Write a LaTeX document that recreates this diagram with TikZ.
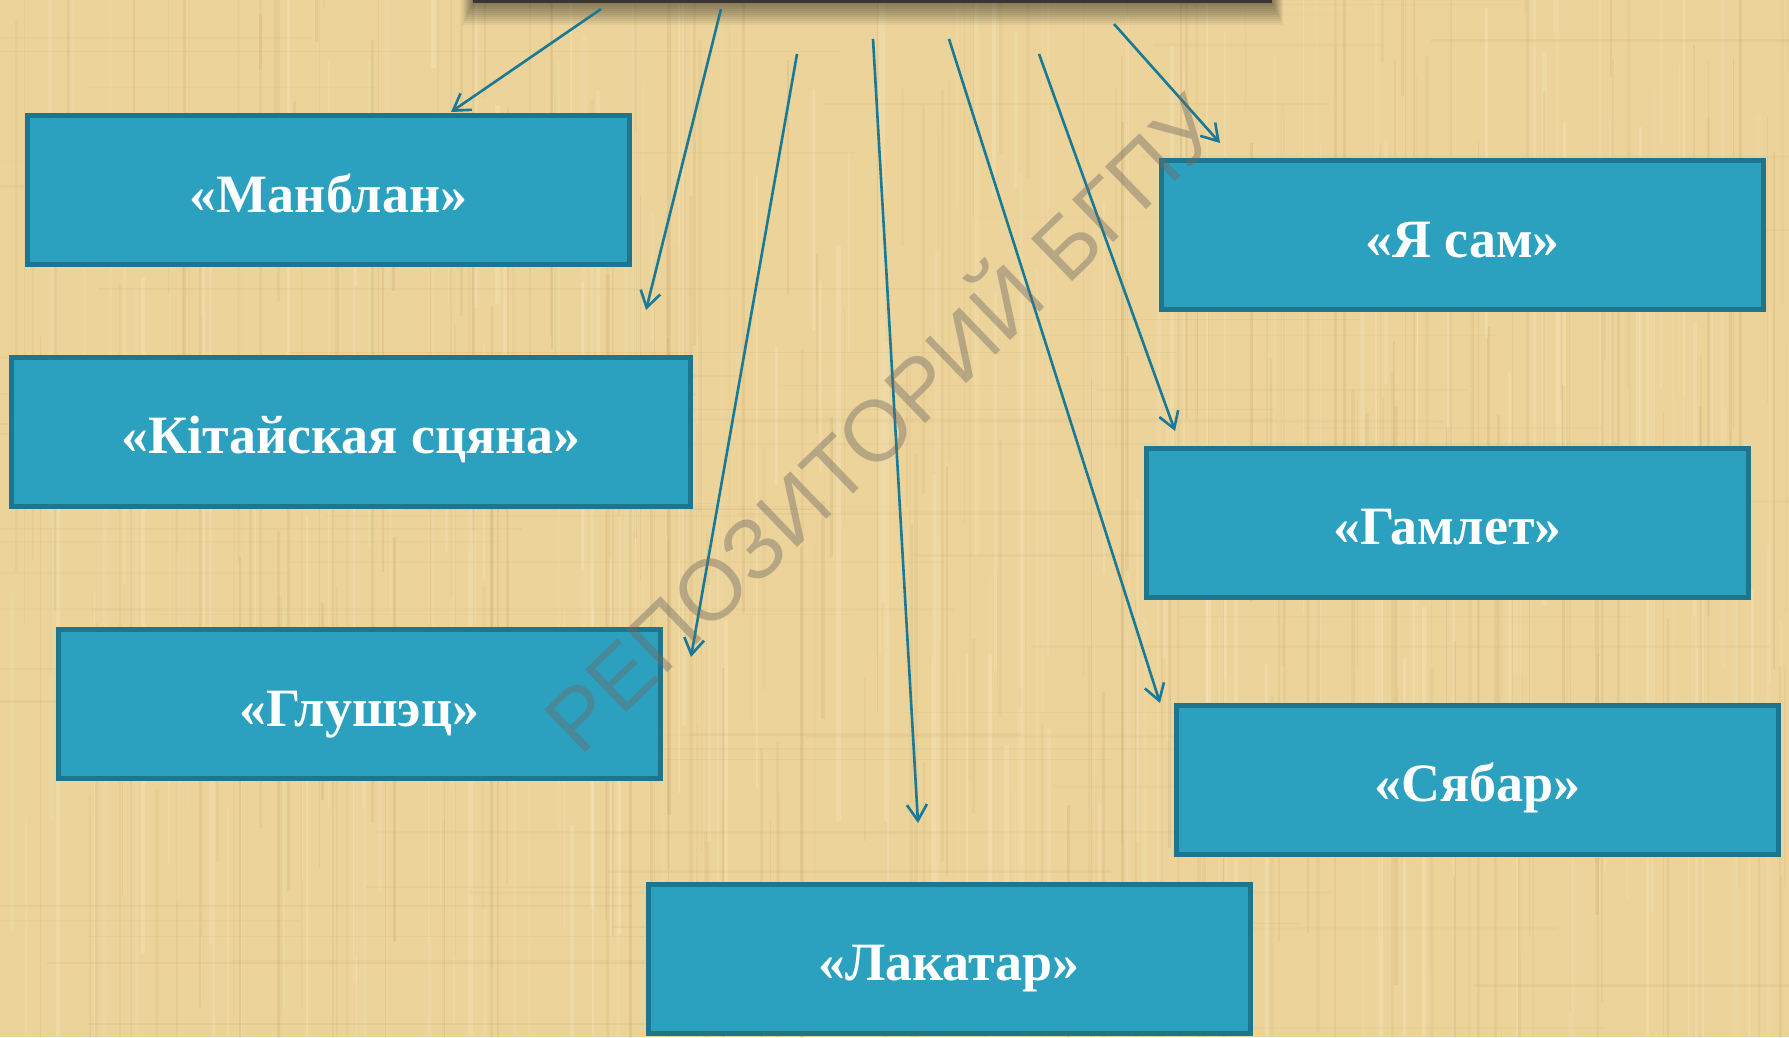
\documentclass[tikz,border=0pt]{standalone}
\usepackage{fontspec}
\setmainfont{Liberation Serif}
\newfontfamily\wmfont{Liberation Sans}
\usetikzlibrary{arrows.meta}
\definecolor{bgtan}{RGB}{235,211,154}
\definecolor{boxfill}{RGB}{44,161,191}
\definecolor{boxline}{RGB}{30,118,142}
\definecolor{arrowc}{RGB}{24,122,150}
\definecolor{streakdark}{RGB}{185,150,90}
\definecolor{streaklight}{RGB}{252,238,200}
\definecolor{wmgray}{RGB}{110,105,100}
\definecolor{barline}{RGB}{58,53,48}
\tikzset{
  titlebox/.style={draw=boxline, fill=boxfill, line width=5pt,
    minimum width=602pt, minimum height=149pt, inner sep=0pt, outer sep=0pt,
    text=white, text height=44pt, text depth=0pt,
    font=\fontsize{54}{62}\selectfont\bfseries},
  link/.style={draw=arrowc, line width=2.6pt,
    -{Straight Barb[length=16pt,width=20pt,line width=2.6pt]}},
  watermark/.style={text=wmgray, opacity=0.42, inner sep=0pt,
    font=\wmfont\fontsize{86}{86}\selectfont}
}
\begin{document}
\begin{tikzpicture}[x=1pt,y=-1pt]
\useasboundingbox (0,0) rectangle (1789,1037);
% parchment background
\fill[bgtan] (0,0) rectangle (1789,1037);
\pgfmathsetseed{42}
\foreach \i in {1,...,260}{
  \pgfmathsetmacro\xx{rnd*1789}
  \pgfmathsetmacro\yy{rnd*1037-200}
  \pgfmathsetmacro\ww{0.8+rnd*3}
  \pgfmathsetmacro\hh{120+rnd*700}
  \pgfmathsetmacro\oo{0.05+rnd*0.12}
  \fill[streakdark, opacity=\oo] (\xx,\yy) rectangle ++(\ww,\hh);
}
\foreach \i in {1,...,200}{
  \pgfmathsetmacro\xx{rnd*1789}
  \pgfmathsetmacro\yy{rnd*1037-200}
  \pgfmathsetmacro\ww{0.8+rnd*4}
  \pgfmathsetmacro\hh{120+rnd*700}
  \pgfmathsetmacro\oo{0.1+rnd*0.2}
  \fill[streaklight, opacity=\oo] (\xx,\yy) rectangle ++(\ww,\hh);
}
\foreach \i in {1,...,80}{
  \pgfmathsetmacro\xx{rnd*1789-300}
  \pgfmathsetmacro\yy{rnd*1037}
  \pgfmathsetmacro\ww{200+rnd*700}
  \pgfmathsetmacro\hh{0.8+rnd*2.5}
  \pgfmathsetmacro\oo{0.04+rnd*0.08}
  \fill[streakdark, opacity=\oo] (\xx,\yy) rectangle ++(\ww,\hh);
}
% top bar with shadow
\foreach \k in {0,...,11}{
  \fill[black, opacity=0.045] (473-\k,0) rectangle (1272+\k,3+2*\k);
}
\fill[barline] (473,0) rectangle (1272,3);
% arrow end points
\coordinate (s1) at (601,9);   \coordinate (e1) at (451,112);
\coordinate (s2) at (721,9);   \coordinate (e2) at (646,310);
\coordinate (s3) at (797,54);  \coordinate (e3) at (691,657);
\coordinate (s4) at (873,39);  \coordinate (e4) at (918,823);
\coordinate (s5) at (949,39);  \coordinate (e5) at (1160,703);
\coordinate (s6) at (1039,54); \coordinate (e6) at (1175,431);
\coordinate (s7) at (1114,24); \coordinate (e7) at (1220,143);
\draw[link] (s1) -- (e1);
\draw[link] (s2) -- (e2);
\draw[link] (s3) -- (e3);
\draw[link] (s4) -- (e4);
\draw[link] (s5) -- (e5);
\draw[link] (s6) -- (e6);
\draw[link] (s7) -- (e7);
% boxes
\node[titlebox] (manblan) at (328.5,190) {«Манблан»};
\node[titlebox, minimum width=679pt] (kitay) at (351,431.5) {«Кітайская сцяна»};
\node[titlebox] (glushec) at (359.5,704) {«Глушэц»};
\node[titlebox] (lakatar) at (949,958.5) {«Лакатар»};
\node[titlebox] (yasam) at (1462.5,235) {«Я сам»};
\node[titlebox] (hamlet) at (1447.5,522.5) {«Гамлет»};
\node[titlebox] (syabar) at (1477.5,779.5) {«Сябар»};
% watermark
\node[watermark, rotate=44] (wm) at (876,418) {РЕПОЗИТОРИЙ БГПУ};
\end{tikzpicture}
\end{document}
